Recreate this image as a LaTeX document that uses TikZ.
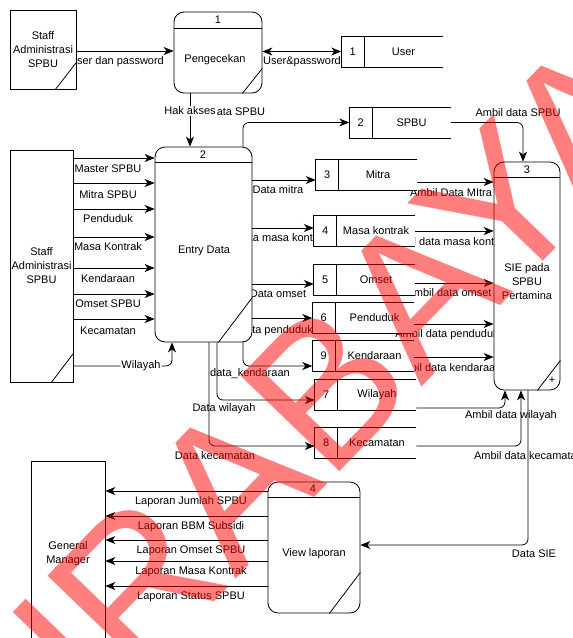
\documentclass[tikz,border=0pt]{standalone}
\usepackage{fontspec}
\setmainfont{Liberation Sans}
\usetikzlibrary{arrows.meta,positioning}

\tikzset{
  lbl/.style={font=\fontsize{11}{14}\selectfont, inner sep=1pt, align=center},
  entitas/.style={draw, fill=white, lbl, inner sep=0pt},
  proses/.style={draw, fill=white, rounded corners=10pt, inner sep=0pt},
  simpan/.style={fill=white, lbl, inner sep=0pt, minimum height=30pt},
  tandaair/.style={text=red, opacity=0.5, font=\fontsize{200}{200}\selectfont, inner sep=0pt},
}

\begin{document}
\begin{tikzpicture}[x=1pt,y=-1pt,line width=0.8pt,>={Stealth[length=10pt,width=8pt,inset=3pt]}]
\useasboundingbox (0,0) rectangle (573,638);

% label alur (di bawah kotak)
\node[lbl] (l1) at (116.5,62) {User dan password};
\node[lbl] (l2) at (302,62) {User\&password};
\node[lbl] (l4) at (237,112) {Data SPBU};
\node[lbl] (l5) at (278,190) {Data mitra};
\node[lbl] (l6) at (282,238) {Data masa kontrak};
\node[lbl] (l7) at (278,294) {Data omset};
\node[lbl] (l8) at (275.5,331) {Data penduduk};
\node[lbl] (l9) at (250,374) {data\_kendaraan};
\node[lbl] (l10) at (224,409) {Data wilayah};
\node[lbl] (l11) at (215,456) {Data kecamatan};
\node[lbl] (l12) at (518,113) {Ambil data SPBU};
\node[lbl] (l13) at (451,193) {Ambil Data MItra};
\node[lbl] (l14) at (449,242) {Ambil data masa kontrak};
\node[lbl] (l15) at (449,293) {Ambil data omset};
\node[lbl] (l16) at (447,335) {Ambil data penduduk};
\node[lbl] (l17) at (448,368) {Ambil data kendaraan};
\node[lbl] (l18) at (511,416) {Ambil data wilayah};
\node[lbl] (l19) at (528.5,456) {Ambil data kecamatan};
\node[lbl] (l20) at (534,554) {Data SIE};
\node[lbl] (m1) at (108,169) {Master SPBU};
\node[lbl] (m2) at (108,195) {Mitra SPBU};
\node[lbl] (m3) at (108,219) {Penduduk};
\node[lbl] (m4) at (108,247) {Masa Kontrak};
\node[lbl] (m5) at (108,279) {Kendaraan};
\node[lbl] (m6) at (108,304) {Omset SPBU};
\node[lbl] (m7) at (108,331) {Kecamatan};
\node[lbl] (r1) at (191,502) {Laporan Jumlah SPBU};
\node[lbl] (r2) at (191,527) {Laporan BBM Subsidi};
\node[lbl] (r3) at (191,551) {Laporan Omset SPBU};
\node[lbl] (r4) at (191,572) {Laporan Masa Kontrak};
\node[lbl] (r5) at (191,597) {Laporan Status SPBU};

% entitas luar
\node[entitas, minimum width=66pt, minimum height=79pt] (e1) at (43,49.5) {Staff\\Administrasi\\SPBU};
\draw ([xshift=-21pt]e1.south east) -- ([yshift=27pt]e1.south east);
\node[entitas, minimum width=63pt, minimum height=232pt] (e2) at (41.5,266) {Staff\\Administrasi\\SPBU};
\draw ([xshift=-22pt]e2.south east) -- ([yshift=29pt]e2.south east);
\node[entitas, minimum width=74pt, minimum height=186pt] (gm) at (68,554) {General\\Manager};

% proses
\node[proses, minimum width=88pt, minimum height=81pt] (p1) at (218,52.5) {};
\draw ([yshift=-17pt]p1.north west) -- ([yshift=-17pt]p1.north east);
\draw ([xshift=-20pt]p1.south east) -- ([yshift=25pt]p1.south east);
\node[lbl] (p1n) at (218,20) {1};
\node[lbl] (p1t) at (215,60) {Pengecekan};

\node[proses, minimum width=97pt, minimum height=195pt] (p2) at (203.5,244.5) {};
\draw ([yshift=-16pt]p2.north west) -- ([yshift=-16pt]p2.north east);
\draw ([xshift=-34pt]p2.south east) -- ([yshift=45pt]p2.south east);
\node[lbl] (p2n) at (203,155) {2};
\node[lbl] (p2t) at (204,251) {Entry Data};

\node[proses, minimum width=66pt, minimum height=228pt] (p3) at (527,276) {};
\draw ([yshift=-16pt]p3.north west) -- ([yshift=-16pt]p3.north east);
\draw ([xshift=-23pt]p3.south east) -- ([yshift=30pt]p3.south east);
\node[lbl] (p3n) at (527,170) {3};
\node[lbl] (p3t) at (527,282) {SIE pada\\SPBU\\Pertamina};
\node[lbl] (p3p) at (552,380) {+};

\node[proses, minimum width=92pt, minimum height=131pt] (p4) at (314,547.5) {};
\draw ([yshift=-16pt]p4.north west) -- ([yshift=-16pt]p4.north east);
\draw ([xshift=-31pt]p4.south east) -- ([yshift=41pt]p4.south east);
\node[lbl] (p4n) at (313,489) {4};
\node[lbl] (p4t) at (314,554) {View laporan};

% data store
\node[simpan, minimum width=78pt] (ds1) at (403.5,51.5) {User}; \node[simpan, minimum width=22pt, left=0pt of ds1] (ds1k) {1};
\draw (ds1.north east) -- (ds1k.north west) -- (ds1k.south west) -- (ds1.south east) (ds1k.north east) -- (ds1k.south east);
\node[simpan, minimum width=78pt] (ds2) at (411.5,122.5) {SPBU}; \node[simpan, minimum width=22pt, left=0pt of ds2] (ds2k) {2};
\draw (ds2.north east) -- (ds2k.north west) -- (ds2k.south west) -- (ds2.south east) (ds2k.north east) -- (ds2k.south east);
\node[simpan, minimum width=78pt] (ds3) at (378,175) {Mitra}; \node[simpan, minimum width=22pt, left=0pt of ds3] (ds3k) {3};
\draw (ds3.north east) -- (ds3k.north west) -- (ds3k.south west) -- (ds3.south east) (ds3k.north east) -- (ds3k.south east);
\node[simpan, minimum width=78pt] (ds4) at (376,230.5) {Masa kontrak}; \node[simpan, minimum width=22pt, left=0pt of ds4] (ds4k) {4};
\draw (ds4.north east) -- (ds4k.north west) -- (ds4k.south west) -- (ds4.south east) (ds4k.north east) -- (ds4k.south east);
\node[simpan, minimum width=78pt] (ds5) at (376,279.5) {Omset}; \node[simpan, minimum width=22pt, left=0pt of ds5] (ds5k) {5};
\draw (ds5.north east) -- (ds5k.north west) -- (ds5k.south west) -- (ds5.south east) (ds5k.north east) -- (ds5k.south east);
\node[simpan, minimum width=78pt] (ds6) at (374.5,318) {Penduduk}; \node[simpan, minimum width=22pt, left=0pt of ds6] (ds6k) {6};
\draw (ds6.north east) -- (ds6k.north west) -- (ds6k.south west) -- (ds6.south east) (ds6k.north east) -- (ds6k.south east);
\node[simpan, minimum width=78pt] (ds9) at (374.5,355.5) {Kendaraan}; \node[simpan, minimum width=22pt, left=0pt of ds9] (ds9k) {9};
\draw (ds9.north east) -- (ds9k.north west) -- (ds9k.south west) -- (ds9.south east) (ds9k.north east) -- (ds9k.south east);
\node[simpan, minimum width=78pt] (ds7) at (377,395) {Wilayah}; \node[simpan, minimum width=22pt, left=0pt of ds7] (ds7k) {7};
\draw (ds7.north east) -- (ds7k.north west) -- (ds7k.south west) -- (ds7.south east) (ds7k.north east) -- (ds7k.south east);
\node[simpan, minimum width=78pt] (ds8) at (377,442.5) {Kecamatan}; \node[simpan, minimum width=22pt, left=0pt of ds8] (ds8k) {8};
\draw (ds8.north east) -- (ds8k.north west) -- (ds8k.south west) -- (ds8.south east) (ds8k.north east) -- (ds8k.south east);

% alur data
\draw[->] (e1.east |- 0,51) -- (p1.west |- 0,51);
\draw[<->] (p1.east |- ds1k.west) -- (ds1k.west);
\draw[->, rounded corners=6pt] (p2.north -| 243,0) |- (ds2k.west);
\draw[->] (p1.south -| 190,0) -- (p2.north -| 190,0) node[lbl, pos=0.33, fill=white] (l3) {Hak akses};
\draw[->] (e2.east |- 0,158) -- (p2.west |- 0,158);
\draw[->] (e2.east |- 0,183) -- (p2.west |- 0,183);
\draw[->] (e2.east |- 0,209) -- (p2.west |- 0,209);
\draw[->] (e2.east |- 0,237) -- (p2.west |- 0,237);
\draw[->] (e2.east |- 0,268) -- (p2.west |- 0,268);
\draw[->] (e2.east |- 0,294) -- (p2.west |- 0,294);
\draw[->] (e2.east |- 0,319) -- (p2.west |- 0,319);
\draw[->, rounded corners=6pt] (e2.east |- 0,366) -| (p2.south -| 172,0) node[lbl, pos=0.343, fill=white] (m8) {Wilayah};
\draw[->] (p2.east |- 0,180) -- (ds3k.west |- 0,180);
\draw[->] (p2.east |- 0,228) -- (ds4k.west |- 0,228);
\draw[->] (p2.east |- 0,284) -- (ds5k.west |- 0,284);
\draw[->] (p2.east |- 0,318) -- (ds6k.west |- 0,318);
\draw[->, rounded corners=6pt] (p2.south -| 243,0) |- (ds9k.west |- 0,366);
\draw[->, rounded corners=6pt] (p2.south -| 217,0) |- (ds7k.west |- 0,400);
\draw[->, rounded corners=6pt] (p2.south -| 209,0) |- (ds8k.west |- 0,446);
\draw[->, rounded corners=6pt] (ds2.east) -| (p3.north -| 523,0);
\draw[->] (ds3.east |- 0,182) -- (p3.west |- 0,182);
\draw[->] (ds4.east |- 0,231) -- (p3.west |- 0,231);
\draw[->] (ds5.east |- 0,283) -- (p3.west |- 0,283);
\draw[->] (ds6.east |- 0,324) -- (p3.west |- 0,324);
\draw[->] (ds9.east |- 0,357) -- (p3.west |- 0,357);
\draw[->, rounded corners=6pt] (ds7.east |- 0,408) -| (p3.south -| 505,0);
\draw[->, rounded corners=6pt] (ds8.east |- 0,446) -| (p3.south -| 521,0);
\draw[->, rounded corners=6pt] (p3.south -| 528,0) |- (p4.east |- 0,545);
\draw[->] (p4.west |- 0,491) -- (gm.east |- 0,491);
\draw[->] (p4.west |- 0,516) -- (gm.east |- 0,516);
\draw[->] (p4.west |- 0,540) -- (gm.east |- 0,540);
\draw[->] (p4.west |- 0,561) -- (gm.east |- 0,561);
\draw[->] (p4.west |- 0,586) -- (gm.east |- 0,586);

% tanda air
\node[tandaair, anchor=base east, rotate=46] (wm) at (679,121) {SURABAYA};
\end{tikzpicture}
\end{document}
